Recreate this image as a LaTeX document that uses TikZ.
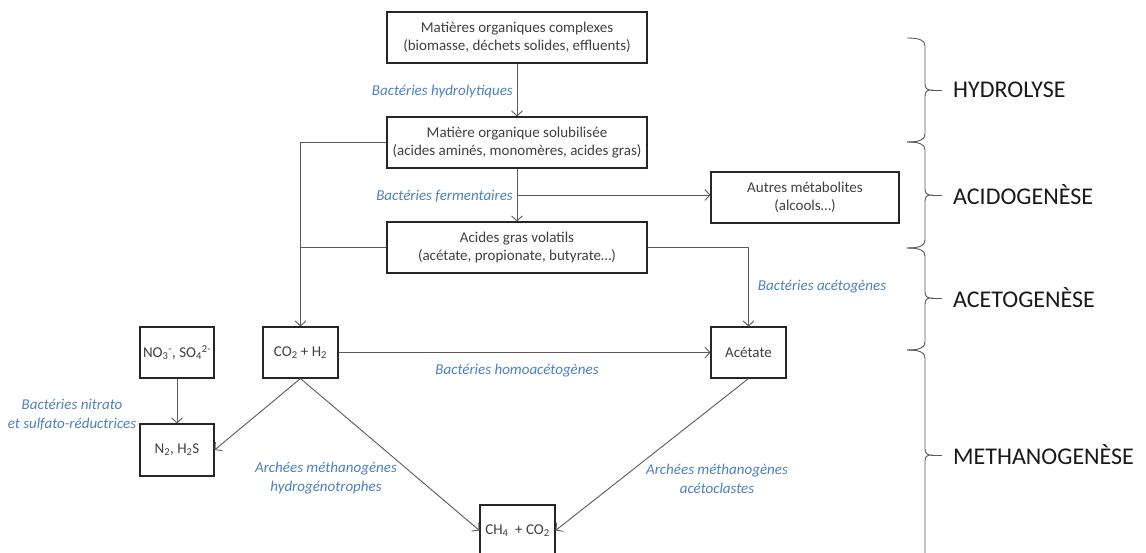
\documentclass[tikz,border=0pt]{standalone}
\usepackage{fontspec}
\setmainfont{Carlito}
\usetikzlibrary{arrows.meta,calc}
\definecolor{lblue}{RGB}{79,129,189}
\definecolor{boxtext}{RGB}{64,64,64}
\definecolor{linegray}{RGB}{90,90,90}
\tikzset{
  stagebox/.style={draw=black!85, line width=1.1pt, inner sep=0pt, align=center,
    text=boxtext, font=\fontsize{15}{18.5}\selectfont},
  conn/.style={draw=linegray, line width=0.9pt, -{Straight Barb[length=5pt,width=11pt,line width=0.9pt]}},
  plainconn/.style={draw=linegray, line width=0.9pt},
  bactlabel/.style={text=lblue, font=\fontsize{15}{19}\selectfont\itshape, inner sep=0pt, align=center},
  phaselabel/.style={text=black!90, font=\fontsize{24}{28}\selectfont, inner sep=0pt, anchor=west},
  bracepath/.style={draw=linegray, line width=0.9pt}
}
\begin{document}
\begin{tikzpicture}[x=1pt,y=-1pt]
\useasboundingbox (0,0) rectangle (1146,553);
\clip (0,0) rectangle (1146,553);
\fill[white] (0,0) rectangle (1146,553);

% boxes
\node[stagebox, minimum width=260pt, minimum height=51pt] (mc) at (517,37.5)
  {Matières organiques complexes\\(biomasse, déchets solides, effluents)};
\node[stagebox, minimum width=260pt, minimum height=51pt] (mos) at (517,142.5)
  {Matière organique solubilisée\\(acides aminés, monomères, acides gras)};
\node[stagebox, minimum width=260pt, minimum height=51pt] (agv) at (517,247.5)
  {Acides gras volatils\\(acétate, propionate, butyrate…)};
\node[stagebox, minimum width=188pt, minimum height=51pt] (autres) at (805,197.5)
  {Autres métabolites\\(alcools…)};
\node[stagebox, minimum width=74pt, minimum height=51pt] (no3) at (177,352.5)
  {NO\textsubscript{3}\textsuperscript{-}, SO\textsubscript{4}\textsuperscript{2-}};
\node[stagebox, minimum width=74pt, minimum height=52pt] (n2) at (177,450)
  {N\textsubscript{2}, H\textsubscript{2}S};
\node[stagebox, minimum width=75pt, minimum height=51pt] (co2) at (300.5,352.5)
  {CO\textsubscript{2} + H\textsubscript{2}};
\node[stagebox, minimum width=75pt, minimum height=51pt] (acet) at (748.5,352.5)
  {Acétate};
\node[stagebox, minimum width=75pt, minimum height=51pt] (ch4) at (517.5,530.5)
  {CH\textsubscript{4}\ \ + CO\textsubscript{2}};

% connectors
\draw[conn] (mc.south) -- (mos.north);
\draw[conn] (mos.south) -- (agv.north);
\coordinate (fork) at ($(mos.south)!0.5!(agv.north)$);
\draw[conn] (fork) -- (fork -| autres.west);
\draw[conn] (mos.west) -| (co2.north);
\draw[plainconn] (agv.west) -- (agv.west -| co2.north);
\draw[conn] (agv.east) -| (acet.north);
\draw[conn] (co2.east) -- (acet.west);
\draw[conn] (no3.south) -- (n2.north);
\draw[conn] (co2.south) -- (n2.east);
\draw[conn] (co2.south) -- (ch4.west);
\draw[conn] (acet.south) -- (ch4.east);

% bacteria labels
\node[bactlabel, anchor=east] (lhyd) at (513,92) {Bactéries hydrolytiques};
\node[bactlabel, anchor=east] (lfer) at (513,196) {Bactéries fermentaires};
\node[bactlabel] (lacg) at (822,287) {Bactéries acétogènes};
\node[bactlabel] (lhom) at (517,371) {Bactéries homoacétogènes};
\node[bactlabel] (lnit) at (72,414.5) {Bactéries nitrato\\et sulfato-réductrices};
\node[bactlabel] (lhyg) at (326,478.5) {Archées méthanogènes\\hydrogénotrophes};
\node[bactlabel] (lacl) at (717,478.5) {Archées méthanogènes\\acétoclastes};

% braces
\foreach \ya/\yb/\ym/\nm in {38/142/90/b1, 142/248/195/b2, 248/350/298/b3, 350/660/455/b4}{
  \draw[bracepath] (907,\ya) .. controls (919,\ya) and (925,\ya+2) .. (925,\ya+8)
    -- (925,\ym-6) .. controls (925,\ym-2) and (927,\ym) .. (931,\ym)
    .. controls (927,\ym) and (925,\ym+2) .. (925,\ym+6)
    -- (925,\yb-8) .. controls (925,\yb-2) and (919,\yb) .. (907,\yb);
  \draw[bracepath] (931,\ym) -- (942,\ym);
}
\node[phaselabel] (hyd) at (953,90) {HYDROLYSE};
\node[phaselabel] (acid) at (953,195) {ACIDOGENÈSE};
\node[phaselabel] (aceto) at (953,298) {ACETOGENÈSE};
\node[phaselabel] (meth) at (953,455) {METHANOGENÈSE};
\end{tikzpicture}
\end{document}
